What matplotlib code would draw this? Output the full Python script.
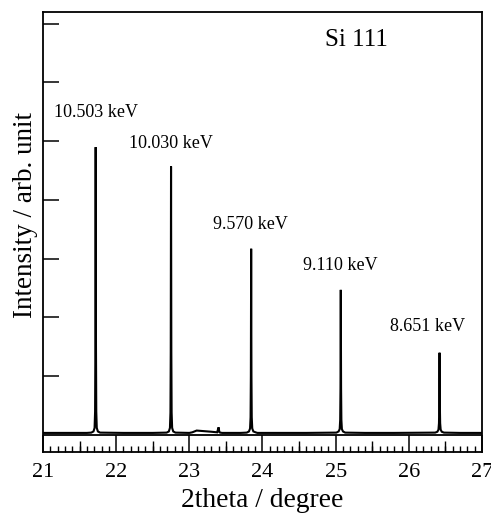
import matplotlib
matplotlib.use("Agg")
import matplotlib.pyplot as plt
from matplotlib.ticker import MultipleLocator, NullFormatter

plt.rcParams['font.family'] = ['Liberation Serif', 'DejaVu Serif']
plt.rcParams['mathtext.fontset'] = 'stix'

# ---- data ----
# measured diffraction trace, 2theta (deg) vs intensity (arb. units)
two_theta = [21.00, 21.30, 21.60, 21.66, 21.69, 21.705, 21.712, 21.716, 21.720, 21.724, 21.728, 21.735, 21.75, 21.78,
             22.10, 22.50, 22.69, 22.72, 22.735, 22.742, 22.746, 22.750, 22.754, 22.758, 22.765, 22.78, 22.81,
             23.00, 23.04, 23.10, 23.20, 23.30, 23.38, 23.40, 23.41, 23.42, 23.45,
             23.70, 23.785, 23.815, 23.830, 23.837, 23.841, 23.845, 23.849, 23.853, 23.860, 23.875, 23.905, 23.93,
             24.20, 24.60, 25.01, 25.04, 25.055, 25.062, 25.066, 25.070, 25.074, 25.078, 25.085, 25.10, 25.13,
             25.40, 25.80, 26.36, 26.39, 26.405, 26.412, 26.416, 26.420, 26.424, 26.428, 26.435, 26.45, 26.48,
             26.70, 27.00]
intensity = [0.035, 0.035, 0.035, 0.04, 0.06, 0.12, 0.40, 1.50, 4.90, 1.50, 0.40, 0.12, 0.06, 0.04,
             0.035, 0.035, 0.04, 0.06, 0.12, 0.38, 1.40, 4.57, 1.40, 0.38, 0.12, 0.06, 0.04,
             0.035, 0.045, 0.075, 0.065, 0.055, 0.045, 0.13, 0.05, 0.04, 0.035,
             0.035, 0.04, 0.06, 0.11, 0.30, 1.00, 3.17, 1.00, 0.30, 0.11, 0.06, 0.045, 0.035,
             0.035, 0.035, 0.04, 0.06, 0.10, 0.26, 0.80, 2.47, 0.80, 0.26, 0.10, 0.06, 0.04,
             0.035, 0.035, 0.04, 0.055, 0.09, 0.20, 0.50, 1.40, 0.50, 0.20, 0.09, 0.055, 0.04,
             0.035, 0.035]

peak_labels = ["10.503 keV", "10.030 keV", "9.570 keV", "9.110 keV", "8.651 keV"]
label_x = [21.73, 22.75, 23.84, 25.06, 26.25]
label_y = [5.49, 4.97, 3.58, 2.88, 1.84]

x_ticks = [21, 22, 23, 24, 25, 26, 27]
title_text = "Si 111"

# ---- figure ----
fig = plt.figure(figsize=(4.91, 5.13), dpi=100)
ax = fig.add_axes([43/491, 1-452/513, (482-43)/491, (452-12)/513])

ax.plot(two_theta, intensity, color='black', lw=1.5, solid_joinstyle='miter')
ax.axhline(0, color='black', lw=1.3)

ax.set_xlim(21, 27)
ax.set_ylim(-0.29, 7.2)

ax.set_xticks(x_ticks)
ax.set_xticklabels([str(t) for t in x_ticks])
ax.xaxis.set_minor_locator(MultipleLocator(0.1))
ax.tick_params(axis='x', which='major', direction='in', length=12.5, width=1.1, labelsize=16, pad=8)
ax.tick_params(axis='x', which='minor', direction='in', length=4.6, width=1.0)

# half-degree ticks of medium length
sec = ax.secondary_xaxis('bottom')
sec.set_xticks([21.5, 22.5, 23.5, 24.5, 25.5, 26.5])
sec.xaxis.set_major_formatter(NullFormatter())
sec.tick_params(axis='x', which='major', direction='in', length=7.8, width=1.0)
sec.tick_params(axis='x', which='minor', bottom=False)
sec.spines['bottom'].set_visible(False)

ax.set_yticks([1, 2, 3, 4, 5, 6, 7])
ax.set_yticklabels([])
ax.tick_params(axis='y', which='major', direction='in', length=11.5, width=1.1)

for s in ax.spines.values():
    s.set_linewidth(1.3)

ax.set_xlabel("2theta / degree", fontsize=19.8, labelpad=4)
ax.set_ylabel("Intensity / arb. unit", fontsize=19.5)
ax.yaxis.set_label_coords(-0.012, 0.539)

for t, lx, ly in zip(peak_labels, label_x, label_y):
    ax.text(lx, ly, t, ha='center', va='center', fontsize=13)
ax.text(25.29, 6.73, title_text, ha='center', va='center', fontsize=18)

fig.savefig("out.png", dpi=100)
